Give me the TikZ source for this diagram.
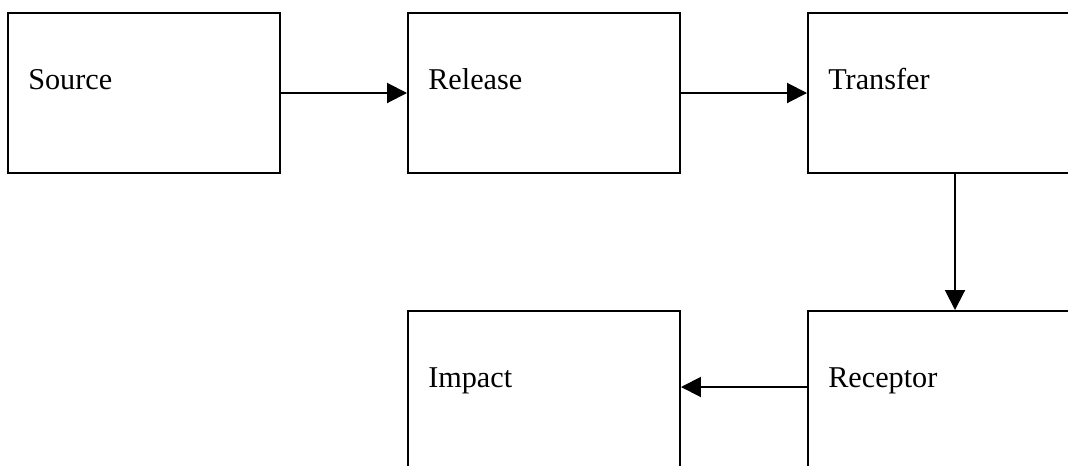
\documentclass[tikz,border=0pt]{standalone}
\usepackage{fontspec}
\setmainfont{Liberation Serif}
\usetikzlibrary{arrows.meta}
\begin{document}
\begin{tikzpicture}
            \useasboundingbox (0,0) rectangle (26.7,-11.625);
            \tikzstyle{stagebox} = [rectangle,draw,line width=1.4pt,minimum width=6.8cm,minimum height=4.0cm]
            \tikzstyle{stagetext} = [anchor=base west,inner sep=0pt,font=\fontsize{21.5}{26}\selectfont]
            \tikzstyle{flowarrow} = [line width=1.4pt,-{Triangle[length=0.5cm,width=0.5cm]}]
            \node[stagebox](source) at (3.6,-2.325){};
            \node[stagebox](release) at (13.6,-2.325){};
            \node[stagebox](transfer) at (23.6,-2.325){};
            \node[stagebox](impact) at (13.6,-9.775){};
            \node[stagebox](receptor) at (23.6,-9.775){};
            \node[stagetext](sourcetext) at ([xshift=0.525cm,yshift=-1.925cm]source.north west) {Source};
            \node[stagetext](releasetext) at ([xshift=0.525cm,yshift=-1.925cm]release.north west) {Release};
            \node[stagetext](transfertext) at ([xshift=0.525cm,yshift=-1.925cm]transfer.north west) {Transfer};
            \node[stagetext](impacttext) at ([xshift=0.525cm,yshift=-1.925cm]impact.north west) {Impact};
            \node[stagetext](receptortext) at ([xshift=0.525cm,yshift=-1.925cm]receptor.north west) {Receptor};
            \draw[flowarrow] (source.east) -- (release.west);
            \draw[flowarrow] (release.east) -- (transfer.west);
            \draw[flowarrow] ([xshift=0.275cm]transfer.south) -- ([xshift=0.275cm]receptor.north);
            \draw[flowarrow] ([yshift=0.1cm]receptor.west) -- ([yshift=0.1cm]impact.east);
        \end{tikzpicture}
\end{document}
